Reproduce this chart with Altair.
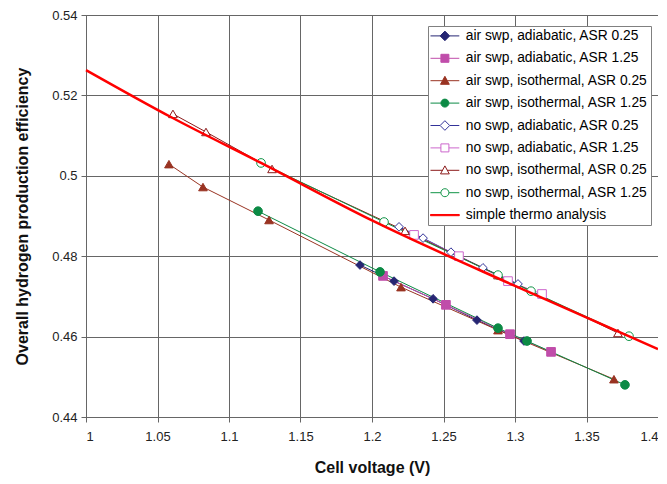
import altair as alt
import pandas as pd

series_names = [
    "air swp, adiabatic, ASR 0.25",
    "air swp, adiabatic, ASR 1.25",
    "air swp, isothermal, ASR 0.25",
    "air swp, isothermal, ASR 1.25",
    "no swp, adiabatic, ASR 0.25",
    "no swp, adiabatic, ASR 1.25",
    "no swp, isothermal, ASR 0.25",
    "no swp, isothermal, ASR 1.25",
    "simple thermo analysis",
]

air_adi_025_x = [1.1916, 1.2154, 1.2427, 1.2734, 1.3063]
air_adi_025_y = [0.4778, 0.4738, 0.4694, 0.4641, 0.4589]
air_adi_125_x = [1.2077, 1.2517, 1.2965, 1.3252]
air_adi_125_y = [0.4751, 0.4679, 0.4606, 0.4562]
air_iso_025_x = [1.0580, 1.0818, 1.1280, 1.2203, 1.2881, 1.3692]
air_iso_025_y = [0.5029, 0.4972, 0.4890, 0.4723, 0.4616, 0.4494]
air_iso_125_x = [1.1203, 1.2056, 1.2881, 1.3084, 1.3769]
air_iso_125_y = [0.4912, 0.4761, 0.4621, 0.4589, 0.4480]
no_adi_025_x = [1.2189, 1.2357, 1.2552, 1.2776, 1.3021]
no_adi_025_y = [0.4873, 0.4845, 0.4810, 0.4771, 0.4731]
no_adi_125_x = [1.2294, 1.2608, 1.2951, 1.3189]
no_adi_125_y = [0.4853, 0.4800, 0.4738, 0.4706]
no_iso_025_x = [1.0608, 1.0839, 1.1301, 1.2231, 1.2881, 1.3720]
no_iso_025_y = [0.5154, 0.5109, 0.5017, 0.4863, 0.4753, 0.4609]
no_iso_125_x = [1.1224, 1.2084, 1.2881, 1.3112, 1.3797]
no_iso_125_y = [0.5032, 0.4885, 0.4753, 0.4713, 0.4601]
thermo_x = [1.0, 1.06, 1.1224, 1.2, 1.3, 1.4]
thermo_y = [0.5263, 0.5145, 0.5032, 0.4889, 0.4726, 0.4569]

x_ticks = [1, 1.05, 1.1, 1.15, 1.2, 1.25, 1.3, 1.35, 1.4]
y_ticks = [0.44, 0.46, 0.48, 0.5, 0.52, 0.54]

stroke_colors = ["#262673", "#C04DAA", "#993322", "#0C8A45",
                 "#333399", "#CC66CC", "#8B1A1A", "#119447", "#FF0000"]
fill_colors = ["#262673", "#C04DAA", "#993322", "#0C8A45",
               "white", "white", "white", "white", "#FF0000"]
plot_shapes = ["diamond", "square", "triangle-up", "circle",
               "diamond", "square", "triangle-up", "circle"]

L = "M-3.6,0H{a}M{b},0H3.6"
legend_shapes = [
    L.format(a=-1.2, b=1.2) + "M0,-1.2L1.2,0L0,1.2L-1.2,0Z",
    L.format(a=-1, b=1) + "M-1,-1H1V1H-1Z",
    L.format(a=-0.6, b=0.6) + "M0,-1.1L1.1,0.9H-1.1Z",
    L.format(a=-1, b=1) + "M-1,0A1,1 0 1,1 1,0A1,1 0 1,1 -1,0Z",
    L.format(a=-1.2, b=1.2) + "M0,-1.2L1.2,0L0,1.2L-1.2,0Z",
    L.format(a=-1, b=1) + "M-1,-1H1V1H-1Z",
    L.format(a=-0.6, b=0.6) + "M0,-1.1L1.1,0.9H-1.1Z",
    L.format(a=-1, b=1) + "M-1,0A1,1 0 1,1 1,0A1,1 0 1,1 -1,0Z",
    "M-3.6,-0.15H3.6V0.15H-3.6Z",
]

xs_list = [air_adi_025_x, air_adi_125_x, air_iso_025_x, air_iso_125_x,
           no_adi_025_x, no_adi_125_x, no_iso_025_x, no_iso_125_x, thermo_x]
ys_list = [air_adi_025_y, air_adi_125_y, air_iso_025_y, air_iso_125_y,
           no_adi_025_y, no_adi_125_y, no_iso_025_y, no_iso_125_y, thermo_y]

rows = []
for name, xs, ys in zip(series_names, xs_list, ys_list):
    for i, (xv, yv) in enumerate(zip(xs, ys)):
        rows.append({"series": name, "v": xv, "eff": yv, "idx": i})
df = pd.DataFrame(rows)

thermo_name = series_names[-1]
FONT = "Liberation Sans"

x_enc = alt.X("v:Q", scale=alt.Scale(domain=[1, 1.4], nice=False, zero=False),
              axis=alt.Axis(values=x_ticks, format="~g", title="Cell voltage (V)"))
y_enc = alt.Y("eff:Q", scale=alt.Scale(domain=[0.44, 0.54], nice=False, zero=False),
              axis=alt.Axis(values=y_ticks, format="~g",
                            title="Overall hydrogen production efficiency"))

stroke_scale = alt.Scale(domain=series_names, range=stroke_colors)
fill_scale = alt.Scale(domain=series_names, range=fill_colors)

base = alt.Chart(df)

lines = base.transform_filter(alt.datum.series != thermo_name).mark_line(
    strokeWidth=1).encode(
    x=x_enc, y=y_enc,
    color=alt.Color("series:N", scale=stroke_scale, legend=None),
    order="idx:Q",
)

points = base.transform_filter(alt.datum.series != thermo_name).mark_point(
    opacity=1, strokeWidth=1, size=75).encode(
    x=x_enc, y=y_enc,
    shape=alt.Shape("series:N", scale=alt.Scale(domain=series_names[:8], range=plot_shapes), legend=None),
    stroke=alt.Stroke("series:N", scale=stroke_scale, legend=None),
    fill=alt.Fill("series:N", scale=fill_scale, legend=None),
)

thermo = base.transform_filter(alt.datum.series == thermo_name).mark_line(
    strokeWidth=2.5, color="#FF0000", interpolate="monotone").encode(
    x=x_enc, y=y_enc, order="idx:Q")

leg = dict(title=None, orient="none", legendX=342, legendY=11, padding=3,
           labelFont=FONT, labelFontSize=13.8, labelColor="#000000",
           strokeColor="#808080", fillColor="white",
           symbolSize=64, symbolStrokeWidth=1, symbolOffset=7,
           labelOffset=14, rowPadding=7.4, labelLimit=400)

legend_layer = base.transform_filter("false").mark_point(
    opacity=1, strokeWidth=1, size=64).encode(
    x=x_enc, y=y_enc,
    shape=alt.Shape("series:N", scale=alt.Scale(domain=series_names, range=legend_shapes),
                    legend=alt.Legend(**leg)),
    stroke=alt.Stroke("series:N", scale=stroke_scale, legend=alt.Legend(**leg)),
    fill=alt.Fill("series:N", scale=fill_scale, legend=alt.Legend(**leg)),
)

chart = alt.layer(lines, points, thermo, legend_layer).resolve_scale(
    shape="independent", stroke="independent", fill="independent", color="independent"
).properties(
    width=572, height=402,
    autosize=alt.AutoSizeParams(type="none"),
    padding={"left": 78, "top": 7, "right": 0, "bottom": 59},
    background="white",
).configure_view(
    stroke="#666666", strokeWidth=1
).configure_axis(
    grid=True, gridColor="#666666", gridWidth=1, gridOpacity=1,
    domainColor="#666666", domainWidth=1,
    tickColor="#666666", tickSize=5, tickWidth=1,
    labelFont=FONT, labelFontSize=13, labelColor="#222222",
    titleFont=FONT, titleFontSize=16, titleFontWeight="bold", titleColor="#111111",
).configure_axisX(
    labelPadding=8, titlePadding=16,
).configure_axisY(
    labelPadding=4, titlePadding=21,
)

chart.save("out.html", embed_options={"renderer": "svg", "actions": False})
